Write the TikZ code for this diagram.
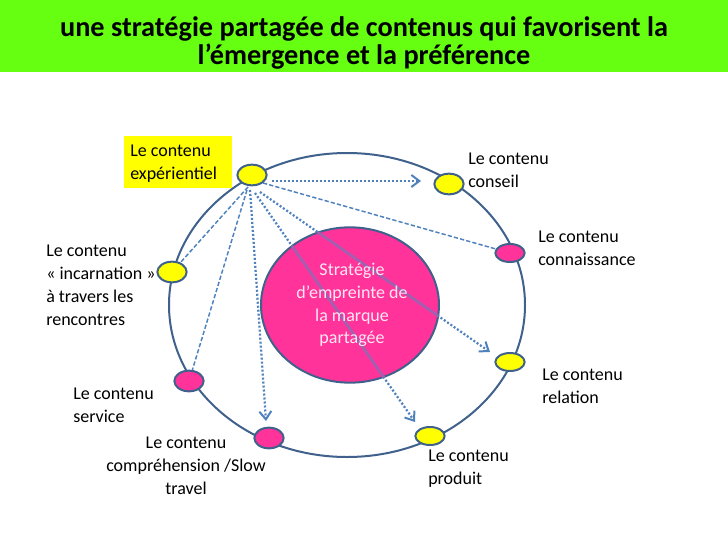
\documentclass[tikz,border=0pt]{standalone}
\usepackage{fontspec}
\setmainfont{Carlito}
\usetikzlibrary{shapes.geometric,arrows.meta}
\definecolor{ringblue}{HTML}{3F618C}
\definecolor{linkblue}{HTML}{4F81BD}
\definecolor{mypink}{HTML}{FF3399}
\definecolor{myyellow}{HTML}{FFFF00}
\definecolor{mygreen}{HTML}{66FF12}
\definecolor{blend}{HTML}{A35FB0}
\tikzset{
  x=0.75pt,y=-0.75pt,
  dotnode/.style={ellipse,draw=ringblue,line width=1.5pt,minimum width=22pt,minimum height=15.5pt,inner sep=0pt},
  ynode/.style={dotnode,fill=myyellow},
  pnode/.style={dotnode,fill=mypink},
  lab/.style={font=\fontsize{13.5}{17.1}\selectfont,align=left,inner sep=0pt,text=black},
  dashlink/.style={draw=linkblue,line width=1.1pt,dash pattern=on 3.2pt off 1.6pt},
  dotlink/.style={draw=linkblue,line width=1.7pt,dash pattern=on 1.5pt off 1.5pt,-{Straight Barb[length=6pt,width=9pt,line width=1.5pt]}},
  solidover/.style={draw=blend,line width=2pt},
}
\begin{document}
\begin{tikzpicture}
\useasboundingbox (0,0) rectangle (728,546);
\fill[mygreen] (0,0) rectangle (728,72);
\node[font=\bfseries\fontsize{21.2}{20.7}\selectfont,align=center,inner sep=0pt] (title) at (364,43) {une stratégie partagée de contenus qui favorisent la\\l’émergence et la préférence};
\node[ellipse,draw=ringblue,line width=1.5pt,minimum width=267pt,minimum height=228pt,inner sep=0pt] (ring) at (347,305) {};
\node[ellipse,draw=ringblue,line width=1.5pt,fill=mypink,minimum width=133.5pt,minimum height=116.5pt,inner sep=0pt] (core) at (350,305) {};
\coordinate (sInc) at (248,187);
\coordinate (sServ) at (247,190);
\coordinate (sCompr) at (250,190);
\coordinate (sProd) at (255,193);
\coordinate (sRel) at (260,192);
\coordinate (sConn) at (263,183);
\coordinate (sConseil) at (272,181);
\coordinate (aConseil) at (421,181);
\coordinate (aRel) at (490,352);
\coordinate (aProd) at (415,422);
\coordinate (aCompr) at (266,421);
\node[ynode] (conseil) at (449,184) {};
\node[pnode,minimum height=13.5pt] (conn) at (510,253) {};
\node[ynode,minimum height=13.5pt] (rel) at (510,362) {};
\node[ynode,minimum height=13.5pt] (prod) at (430,436) {};
\node[pnode] (compr) at (269,438) {};
\node[pnode] (serv) at (189,381) {};
\node[ynode] (inc) at (172,272) {};
\draw[dashlink] (sInc) -- (inc);
\draw[dashlink] (sServ) -- (serv);
\draw[dashlink] (sConn) -- (conn);
\draw[dotlink] (sConseil) -- (aConseil);
\draw[dotlink] (sCompr) -- (aCompr);
\draw[dotlink] (sRel) -- (aRel);
\draw[dotlink] (sProd) -- (aProd);
\begin{scope}
\clip (350,305) ellipse [x radius=89,y radius=78];
\draw[solidover] (sRel) -- (aRel);
\draw[solidover] (sProd) -- (aProd);
\end{scope}
\node[ynode] (top) at (252,175) {};
\node[font=\fontsize{13.5}{17.1}\selectfont,align=center,text=white!88!mypink,inner sep=0pt] (coretext) at (352,305) {Stratégie\\d’empreinte de\\la marque\\partagée};
\node[fill=myyellow,minimum width=81pt,minimum height=39pt,inner sep=0pt] (expbox) at (178,162) {};
\node[lab,anchor=north west] (lexp) at (130,144.5) {Le contenu\\expérientiel};
\node[lab,anchor=north west] (lconseil) at (468,153) {Le contenu\\conseil};
\node[lab,anchor=north west] (lconn) at (538,231) {Le contenu\\connaissance};
\node[lab,anchor=north west] (lrel) at (542,369) {Le contenu\\relation};
\node[lab,anchor=north west] (lprod) at (428,450) {Le contenu\\produit};
\node[lab,anchor=north west] (linc) at (46,245) {Le contenu\\« incarnation »\\à travers les\\rencontres};
\node[lab,anchor=north west] (lserv) at (73,388) {Le contenu\\service};
\node[lab,align=center] (lcompr) at (186,466) {Le contenu\\compréhension /Slow\\travel};
\end{tikzpicture}
\end{document}
